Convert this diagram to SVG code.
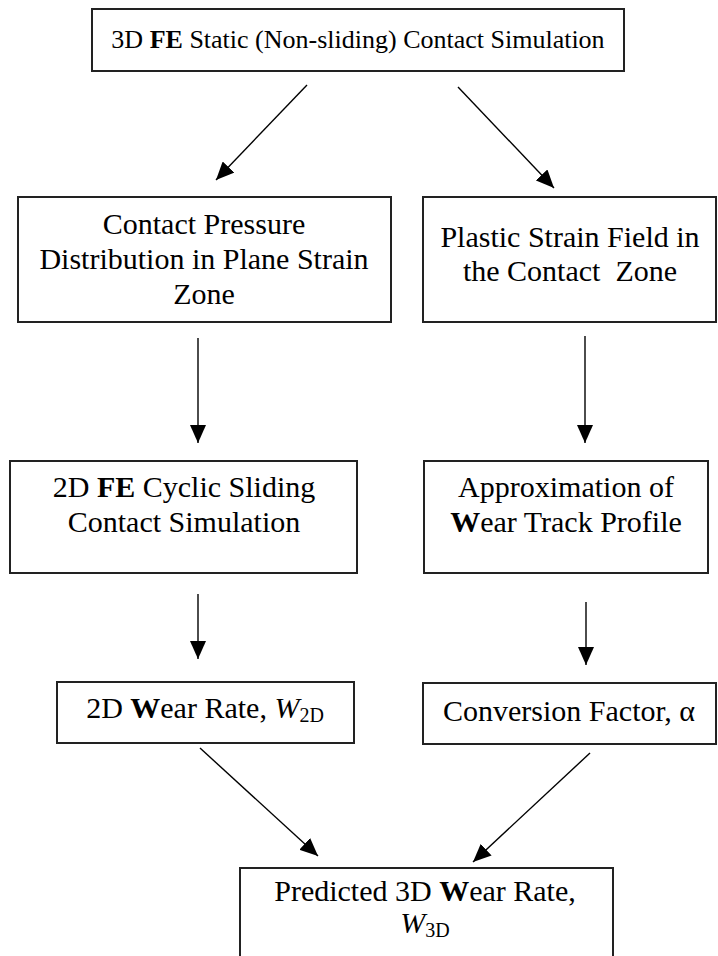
<svg xmlns="http://www.w3.org/2000/svg" width="718" height="956" viewBox="0 0 718 956">
<style>
.box{fill:#fff;stroke:#222;stroke-width:2}
.t{font-family:"Liberation Serif","Times New Roman",serif;font-size:30px;fill:#000;text-anchor:middle}
.top{font-size:26px}
.b{font-weight:bold}
.i{font-style:italic}
.c line{stroke:#000;stroke-width:1.4;marker-end:url(#ah)}
</style>
<defs>
<marker id="ah" markerUnits="userSpaceOnUse" markerWidth="18" markerHeight="16" refX="18" refY="8" orient="auto">
<path d="M0,0 L18,8 L0,16 z" fill="#000"/>
</marker>
</defs>
<rect width="718" height="956" fill="#fff"/>
<g class="c">
<line x1="307" y1="85" x2="216" y2="180"/>
<line x1="458" y1="87" x2="554" y2="188"/>
<line x1="198" y1="338" x2="198" y2="443"/>
<line x1="585" y1="336" x2="585" y2="443"/>
<line x1="198" y1="594" x2="198" y2="659"/>
<line x1="586" y1="602" x2="586" y2="665"/>
<line x1="200" y1="748" x2="318" y2="856"/>
<line x1="590" y1="753" x2="473" y2="862"/>
</g>
<g id="n1">
<rect class="box" x="92" y="9" width="532" height="62"/>
<text class="t top" x="358" y="48">3D <tspan class="b">FE</tspan> Static (Non-sliding) Contact Simulation</text>
</g>
<g id="n2">
<rect class="box" x="18" y="197" width="373" height="125"/>
<text class="t" x="204" y="234">Contact Pressure</text>
<text class="t" x="204" y="269">Distribution in Plane Strain</text>
<text class="t" x="204" y="304">Zone</text>
</g>
<g id="n3">
<rect class="box" x="423" y="197" width="293" height="125"/>
<text class="t" x="570" y="247">Plastic Strain Field in</text>
<text class="t" x="570" y="281">the Contact&#160; Zone</text>
</g>
<g id="n4">
<rect class="box" x="10" y="461" width="347" height="112"/>
<text class="t" x="184" y="497">2D <tspan class="b">FE</tspan> Cyclic Sliding</text>
<text class="t" x="184" y="532">Contact Simulation</text>
</g>
<g id="n5">
<rect class="box" x="424" y="461" width="284" height="112"/>
<text class="t" x="566" y="497">Approximation of</text>
<text class="t" x="566" y="532"><tspan class="b">W</tspan>ear Track Profile</text>
</g>
<g id="n6">
<rect class="box" x="57" y="682" width="297" height="61"/>
<text class="t" x="205" y="718">2D <tspan class="b">W</tspan>ear Rate, <tspan class="i">W</tspan><tspan font-size="20" dy="4">2D</tspan></text>
</g>
<g id="n7">
<rect class="box" x="423" y="683" width="293" height="61"/>
<text class="t" x="569" y="721">Conversion Factor, α</text>
</g>
<g id="n8">
<rect class="box" x="240" y="868" width="373" height="100"/>
<text class="t" x="425" y="901">Predicted 3D <tspan class="b">W</tspan>ear Rate,</text>
<text class="t" x="425" y="933"><tspan class="i">W</tspan><tspan font-size="20" dy="4">3D</tspan></text>
</g>
</svg>
